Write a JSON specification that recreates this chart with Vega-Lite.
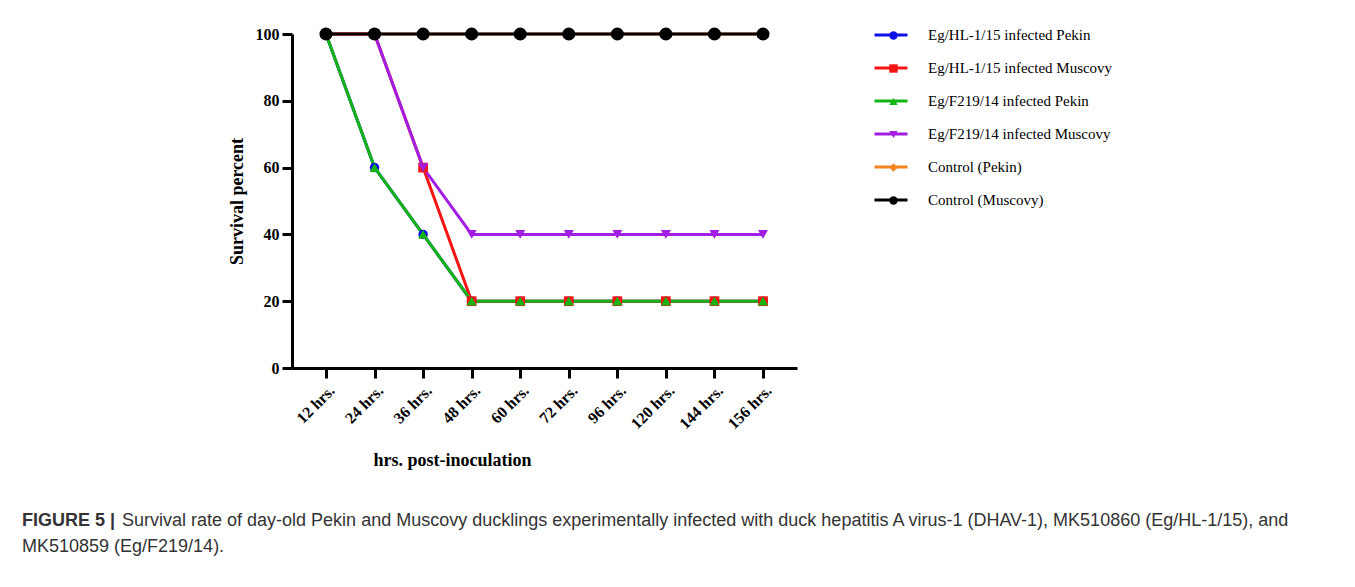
{
  "$schema": "https://vega.github.io/schema/vega-lite/v6.json",
  "autosize": {"type": "none"},
  "width": 505,
  "height": 334,
  "padding": {"left": 292, "top": 34, "right": 558, "bottom": 219},
  "background": "white",
  "config": {"view": {"stroke": null}},
  "title": {
    "text": "FIGURE 5 |",
    "subtitle": [
      "\u200d\u00a0\u00a0\u00a0\u00a0\u00a0\u00a0\u00a0\u00a0\u00a0\u00a0\u00a0\u00a0\u00a0\u00a0\u00a0\u00a0\u00a0\u00a0\u00a0\u00a0Survival rate of day-old Pekin and Muscovy ducklings experimentally infected with duck hepatitis A virus-1 (DHAV-1), MK510860 (Eg/HL-1/15), and",
      "MK510859 (Eg/F219/14)."
    ],
    "orient": "bottom",
    "anchor": "start",
    "frame": "group",
    "dx": -270,
    "offset": 43,
    "font": "Liberation Sans",
    "fontSize": 18,
    "fontWeight": "bold",
    "color": "#333333",
    "subtitleFont": "Liberation Sans",
    "subtitleFontSize": 18,
    "subtitleFontWeight": "normal",
    "subtitleColor": "#333333",
    "subtitlePadding": -18,
    "subtitleLineHeight": 26
  },
  "data": {
    "values": [
      {"series": "Eg/HL-1/15 infected Pekin", "time": "12 hrs.", "survival": 100},
      {"series": "Eg/HL-1/15 infected Pekin", "time": "24 hrs.", "survival": 60},
      {"series": "Eg/HL-1/15 infected Pekin", "time": "36 hrs.", "survival": 40},
      {"series": "Eg/HL-1/15 infected Pekin", "time": "48 hrs.", "survival": 20},
      {"series": "Eg/HL-1/15 infected Pekin", "time": "60 hrs.", "survival": 20},
      {"series": "Eg/HL-1/15 infected Pekin", "time": "72 hrs.", "survival": 20},
      {"series": "Eg/HL-1/15 infected Pekin", "time": "96 hrs.", "survival": 20},
      {"series": "Eg/HL-1/15 infected Pekin", "time": "120 hrs.", "survival": 20},
      {"series": "Eg/HL-1/15 infected Pekin", "time": "144 hrs.", "survival": 20},
      {"series": "Eg/HL-1/15 infected Pekin", "time": "156 hrs.", "survival": 20},
      {"series": "Eg/HL-1/15 infected Muscovy", "time": "12 hrs.", "survival": 100},
      {"series": "Eg/HL-1/15 infected Muscovy", "time": "24 hrs.", "survival": 100},
      {"series": "Eg/HL-1/15 infected Muscovy", "time": "36 hrs.", "survival": 60},
      {"series": "Eg/HL-1/15 infected Muscovy", "time": "48 hrs.", "survival": 20},
      {"series": "Eg/HL-1/15 infected Muscovy", "time": "60 hrs.", "survival": 20},
      {"series": "Eg/HL-1/15 infected Muscovy", "time": "72 hrs.", "survival": 20},
      {"series": "Eg/HL-1/15 infected Muscovy", "time": "96 hrs.", "survival": 20},
      {"series": "Eg/HL-1/15 infected Muscovy", "time": "120 hrs.", "survival": 20},
      {"series": "Eg/HL-1/15 infected Muscovy", "time": "144 hrs.", "survival": 20},
      {"series": "Eg/HL-1/15 infected Muscovy", "time": "156 hrs.", "survival": 20},
      {"series": "Eg/F219/14 infected Pekin", "time": "12 hrs.", "survival": 100},
      {"series": "Eg/F219/14 infected Pekin", "time": "24 hrs.", "survival": 60},
      {"series": "Eg/F219/14 infected Pekin", "time": "36 hrs.", "survival": 40},
      {"series": "Eg/F219/14 infected Pekin", "time": "48 hrs.", "survival": 20},
      {"series": "Eg/F219/14 infected Pekin", "time": "60 hrs.", "survival": 20},
      {"series": "Eg/F219/14 infected Pekin", "time": "72 hrs.", "survival": 20},
      {"series": "Eg/F219/14 infected Pekin", "time": "96 hrs.", "survival": 20},
      {"series": "Eg/F219/14 infected Pekin", "time": "120 hrs.", "survival": 20},
      {"series": "Eg/F219/14 infected Pekin", "time": "144 hrs.", "survival": 20},
      {"series": "Eg/F219/14 infected Pekin", "time": "156 hrs.", "survival": 20},
      {"series": "Eg/F219/14 infected Muscovy", "time": "12 hrs.", "survival": 100},
      {"series": "Eg/F219/14 infected Muscovy", "time": "24 hrs.", "survival": 100},
      {"series": "Eg/F219/14 infected Muscovy", "time": "36 hrs.", "survival": 60},
      {"series": "Eg/F219/14 infected Muscovy", "time": "48 hrs.", "survival": 40},
      {"series": "Eg/F219/14 infected Muscovy", "time": "60 hrs.", "survival": 40},
      {"series": "Eg/F219/14 infected Muscovy", "time": "72 hrs.", "survival": 40},
      {"series": "Eg/F219/14 infected Muscovy", "time": "96 hrs.", "survival": 40},
      {"series": "Eg/F219/14 infected Muscovy", "time": "120 hrs.", "survival": 40},
      {"series": "Eg/F219/14 infected Muscovy", "time": "144 hrs.", "survival": 40},
      {"series": "Eg/F219/14 infected Muscovy", "time": "156 hrs.", "survival": 40},
      {"series": "Control (Pekin)", "time": "12 hrs.", "survival": 100},
      {"series": "Control (Pekin)", "time": "24 hrs.", "survival": 100},
      {"series": "Control (Pekin)", "time": "36 hrs.", "survival": 100},
      {"series": "Control (Pekin)", "time": "48 hrs.", "survival": 100},
      {"series": "Control (Pekin)", "time": "60 hrs.", "survival": 100},
      {"series": "Control (Pekin)", "time": "72 hrs.", "survival": 100},
      {"series": "Control (Pekin)", "time": "96 hrs.", "survival": 100},
      {"series": "Control (Pekin)", "time": "120 hrs.", "survival": 100},
      {"series": "Control (Pekin)", "time": "144 hrs.", "survival": 100},
      {"series": "Control (Pekin)", "time": "156 hrs.", "survival": 100},
      {"series": "Control (Muscovy)", "time": "12 hrs.", "survival": 100},
      {"series": "Control (Muscovy)", "time": "24 hrs.", "survival": 100},
      {"series": "Control (Muscovy)", "time": "36 hrs.", "survival": 100},
      {"series": "Control (Muscovy)", "time": "48 hrs.", "survival": 100},
      {"series": "Control (Muscovy)", "time": "60 hrs.", "survival": 100},
      {"series": "Control (Muscovy)", "time": "72 hrs.", "survival": 100},
      {"series": "Control (Muscovy)", "time": "96 hrs.", "survival": 100},
      {"series": "Control (Muscovy)", "time": "120 hrs.", "survival": 100},
      {"series": "Control (Muscovy)", "time": "144 hrs.", "survival": 100},
      {"series": "Control (Muscovy)", "time": "156 hrs.", "survival": 100}
    ]
  },
  "encoding": {
    "x": {
      "field": "time",
      "type": "ordinal",
      "sort": ["12 hrs.", "24 hrs.", "36 hrs.", "48 hrs.", "60 hrs.", "72 hrs.", "96 hrs.", "120 hrs.", "144 hrs.", "156 hrs."],
      "scale": {"type": "point", "padding": 0.7},
      "axis": {
        "title": "hrs. post-inoculation",
        "titleFont": "Liberation Serif",
        "titleFontSize": 18,
        "titleFontWeight": "bold",
        "titleColor": "black",
        "titleX": 160,
        "titleY": 92,
        "titleAlign": "center",
        "titleBaseline": "middle",
        "labelAngle": -45,
        "labelFont": "Liberation Serif",
        "labelFontSize": 16,
        "labelFontWeight": "bold",
        "labelColor": "black",
        "labelPadding": 4,
        "tickSize": 10,
        "tickWidth": 3,
        "tickColor": "black",
        "domainWidth": 3,
        "domainColor": "black",
        "grid": false
      }
    },
    "y": {
      "field": "survival",
      "type": "quantitative",
      "scale": {"domain": [0, 100]},
      "axis": {
        "title": "Survival percent",
        "titleFont": "Liberation Serif",
        "titleFontSize": 18,
        "titleFontWeight": "bold",
        "titleColor": "black",
        "titlePadding": 9,
        "values": [0, 20, 40, 60, 80, 100],
        "labelFont": "Liberation Serif",
        "labelFontSize": 16,
        "labelFontWeight": "bold",
        "labelColor": "black",
        "labelPadding": 3,
        "tickSize": 10,
        "tickWidth": 3,
        "tickColor": "black",
        "domainWidth": 3,
        "domainColor": "black",
        "grid": false
      }
    }
  },
  "layer": [
    {
      "mark": {"type": "line", "strokeWidth": 3},
      "encoding": {
        "color": {
          "field": "series",
          "type": "nominal",
          "scale": {
            "domain": ["Eg/HL-1/15 infected Pekin", "Eg/HL-1/15 infected Muscovy", "Eg/F219/14 infected Pekin", "Eg/F219/14 infected Muscovy", "Control (Pekin)", "Control (Muscovy)"],
            "range": ["#1010e8", "#f41414", "#14b414", "#a21ee2", "#f5841e", "#000000"]
          },
          "legend": {
            "orient": "none",
            "legendX": 581,
            "legendY": -17,
            "title": null,
            "padding": 0,
            "symbolType": "stroke",
            "symbolSize": 1089,
            "symbolStrokeWidth": 3,
            "labelFont": "Liberation Serif",
            "labelFontSize": 15,
            "labelColor": "black",
            "labelOffset": 19,
            "labelLimit": 400,
            "rowPadding": 7
          }
        }
      }
    },
    {
      "mark": {"type": "point", "filled": true, "opacity": 1},
      "encoding": {
        "color": {
          "field": "series",
          "type": "nominal",
          "legend": {
            "orient": "none",
            "legendX": 594,
            "legendY": -6,
            "title": null,
            "padding": 0,
            "symbolSize": 70,
            "labelExpr": "''",
            "labelFont": "Liberation Serif",
            "labelFontSize": 15,
            "labelColor": "transparent",
            "labelOffset": 0,
            "rowPadding": 17
          }
        },
        "shape": {
          "field": "series",
          "type": "nominal",
          "scale": {
            "domain": ["Eg/HL-1/15 infected Pekin", "Eg/HL-1/15 infected Muscovy", "Eg/F219/14 infected Pekin", "Eg/F219/14 infected Muscovy", "Control (Pekin)", "Control (Muscovy)"],
            "range": ["circle", "square", "triangle-up", "triangle-down", "diamond", "circle"]
          },
          "legend": {
            "orient": "none",
            "legendX": 594,
            "legendY": -6,
            "title": null,
            "padding": 0,
            "symbolSize": 70,
            "labelExpr": "''",
            "labelFont": "Liberation Serif",
            "labelFontSize": 15,
            "labelColor": "transparent",
            "labelOffset": 0,
            "rowPadding": 17
          }
        },
        "size": {
          "field": "series",
          "type": "nominal",
          "scale": {
            "type": "ordinal",
            "domain": ["Eg/HL-1/15 infected Pekin", "Eg/HL-1/15 infected Muscovy", "Eg/F219/14 infected Pekin", "Eg/F219/14 infected Muscovy", "Control (Pekin)", "Control (Muscovy)"],
            "range": [90, 95, 100, 100, 90, 170]
          },
          "legend": null
        },
        "order": {"field": "series", "sort": "descending"}
      }
    }
  ],
  "resolve": {"legend": {"color": "independent", "shape": "independent"}}
}
